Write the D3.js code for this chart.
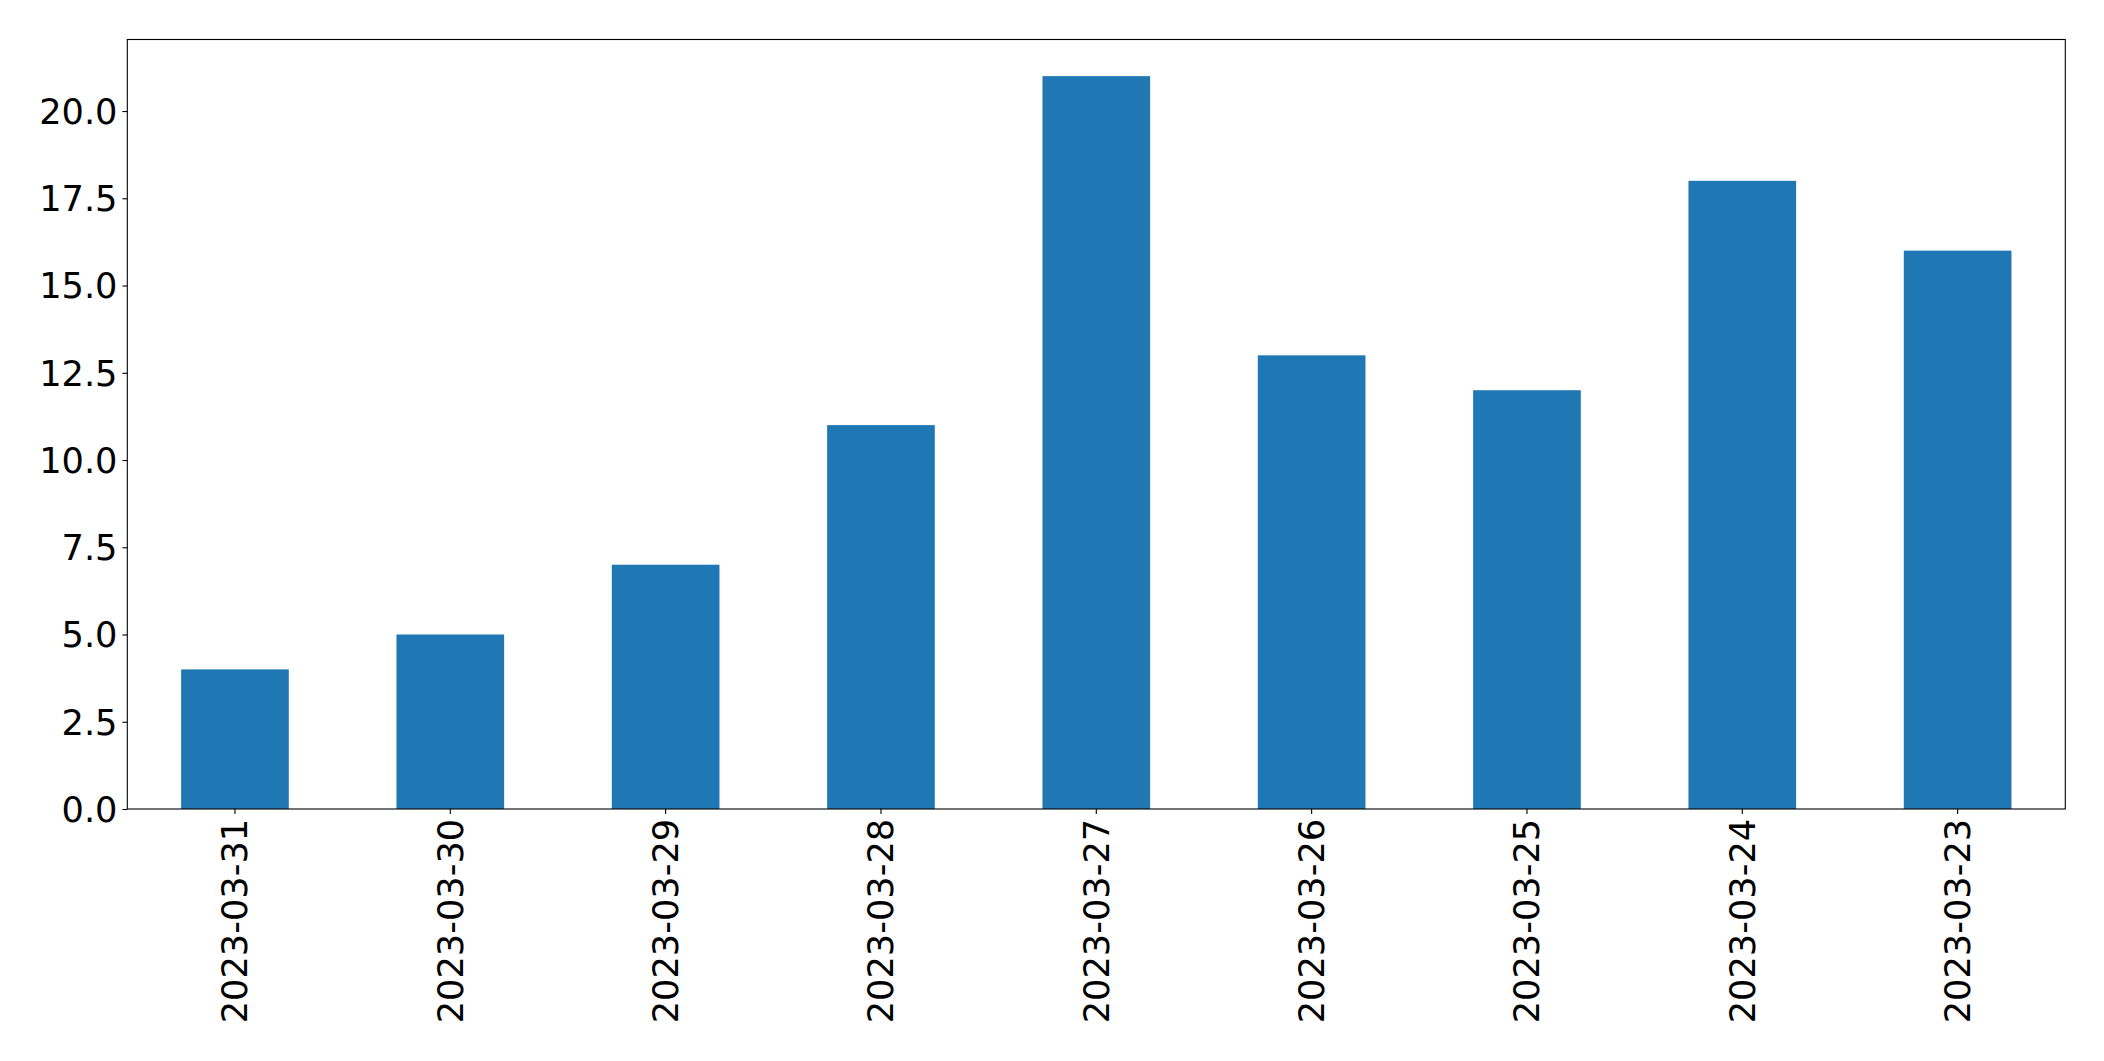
<!DOCTYPE html>
<html>
<head>
<meta charset="utf-8">
<script src="https://d3js.org/d3.v7.min.js"></script>
<style>
  html, body { margin: 0; padding: 0; background: #fff; }
  svg { display: block; }
  text { font-family: "DejaVu Sans", sans-serif; fill: #000; }
</style>
</head>
<body>
<script>
const categories = ["2023-03-31","2023-03-30","2023-03-29","2023-03-28","2023-03-27","2023-03-26","2023-03-25","2023-03-24","2023-03-23"];
const values = [4, 5, 7, 11, 21, 13, 12, 18, 16];
const yTicks = [0, 2.5, 5, 7.5, 10, 12.5, 15, 17.5, 20];

(function () {
const W = 2104, H = 1061;
const mLeft = 127.3, mRight = 2065.3, mTop = 39.5, mBottom = 809;
const fontSize = 35.2;
const tickLen = 4.9, pad = 4.9;

const svg = d3.select("body").append("svg").attr("width", W).attr("height", H);

const x = d3.scaleBand().domain(categories).range([mLeft, mRight]).paddingInner(0.5).paddingOuter(0.25);
const yMax = d3.max(values) * 1.05;
const y = d3.scaleLinear().domain([0, yMax]).range([mBottom, mTop]);

svg.append("g").selectAll("rect").data(values).join("rect")
  .attr("x", (d, i) => x(categories[i]))
  .attr("width", x.bandwidth())
  .attr("y", d => y(d))
  .attr("height", d => y(0) - y(d))
  .attr("fill", "#1f77b4");

const yAxis = d3.axisLeft(y).tickValues(yTicks).tickFormat(d3.format(".1f"))
  .tickSize(tickLen).tickPadding(pad);
const gy = svg.append("g").attr("transform", `translate(${mLeft},0)`).call(yAxis);
gy.select(".domain").remove();
gy.selectAll("line").attr("stroke", "#000").attr("stroke-width", 1.1);
gy.selectAll("text").attr("font-size", fontSize).attr("font-family", "DejaVu Sans").attr("dy", "0.35em");

const xAxis = d3.axisBottom(x).tickSize(tickLen).tickPadding(pad);
const gx = svg.append("g").attr("transform", `translate(0,${mBottom})`).call(xAxis);
gx.select(".domain").remove();
gx.selectAll("line").attr("stroke", "#000").attr("stroke-width", 1.1);
gx.selectAll("text")
  .attr("font-size", fontSize).attr("font-family", "DejaVu Sans")
  .attr("text-anchor", "end")
  .attr("dy", null)
  .attr("dominant-baseline", "central")
  .attr("transform", `translate(0, ${tickLen + pad}) rotate(-90)`)
  .attr("x", 0).attr("y", 0);

svg.append("rect")
  .attr("x", mLeft).attr("y", mTop)
  .attr("width", mRight - mLeft).attr("height", mBottom - mTop)
  .attr("fill", "none").attr("stroke", "#000").attr("stroke-width", 1.1);
})();
</script>
</body>
</html>
